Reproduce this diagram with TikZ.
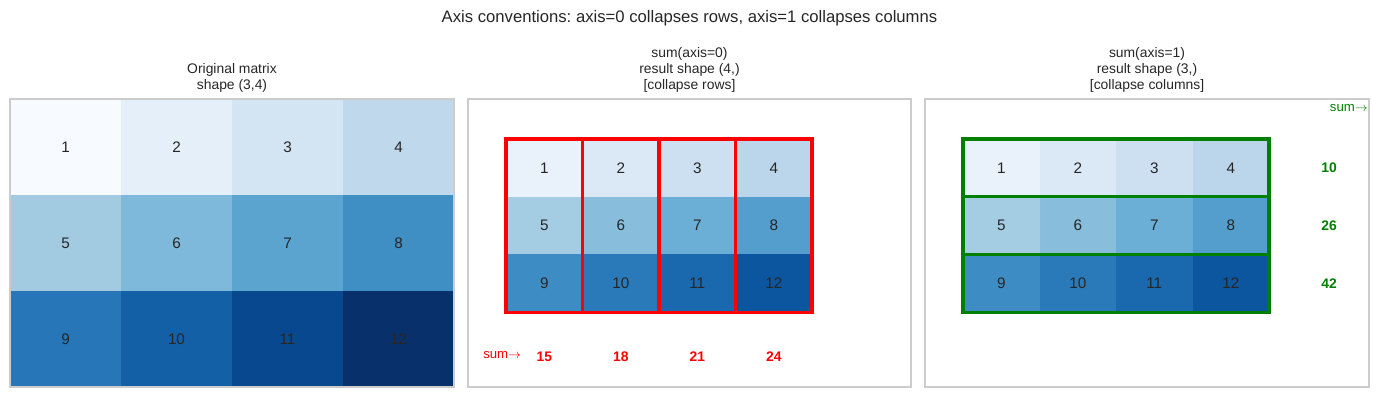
\documentclass[tikz,border=0pt]{standalone}
\usepackage{fontspec}
\setmainfont{Liberation Sans}
\usepackage{tikz}
\frenchspacing

\definecolor{textgray}{HTML}{262626}
\definecolor{framegray}{HTML}{CCCCCC}
\definecolor{sumgreen}{HTML}{008000}
% Blues, scaled 1..12
\definecolor{fullblue1}{HTML}{F7FBFF}
\definecolor{fullblue2}{HTML}{E5EFF9}
\definecolor{fullblue3}{HTML}{D3E4F3}
\definecolor{fullblue4}{HTML}{BFD8EC}
\definecolor{fullblue5}{HTML}{A2CBE2}
\definecolor{fullblue6}{HTML}{7EB8DA}
\definecolor{fullblue7}{HTML}{5CA4D0}
\definecolor{fullblue8}{HTML}{3F8FC5}
\definecolor{fullblue9}{HTML}{2777B8}
\definecolor{fullblue10}{HTML}{1360A7}
\definecolor{fullblue11}{HTML}{08488F}
\definecolor{fullblue12}{HTML}{08306B}
% Blues, scaled 0..14
\definecolor{partblue1}{HTML}{E9F2FA}
\definecolor{partblue2}{HTML}{DBE9F6}
\definecolor{partblue3}{HTML}{CDE0F1}
\definecolor{partblue4}{HTML}{BBD6EB}
\definecolor{partblue5}{HTML}{A4CCE3}
\definecolor{partblue6}{HTML}{88BEDC}
\definecolor{partblue7}{HTML}{6BAED6}
\definecolor{partblue8}{HTML}{549ECD}
\definecolor{partblue9}{HTML}{3D8DC4}
\definecolor{partblue10}{HTML}{2A7AB9}
\definecolor{partblue11}{HTML}{1A68AE}
\definecolor{partblue12}{HTML}{0C56A0}

\begin{document}
\begin{tikzpicture}[x=0.72pt, y=-0.72pt, text=textgray,
	cellnum/.style={inner sep=0, font=\fontsize{11}{12}\selectfont},
	paneltitle/.style={anchor=south, inner sep=0, align=center, font=\fontsize{10}{11.5}\selectfont},
	panelframe/.style={draw=framegray, line width=1.25pt},
	colbox/.style={draw=red, line width=2.2pt},
	rowbox/.style={draw=sumgreen, line width=2.2pt},
	sumval/.style={inner sep=0, font=\fontsize{10}{12}\selectfont\bfseries},
	sumlabel/.style={inner sep=0, font=\fontsize{9.5}{12}\selectfont}]
	\newcommand{\origcellw}{111}
	\newcommand{\origcellh}{96}
	\newcommand{\sumcellw}{76.5}
	\newcommand{\sumcellh}{57.7}
	\useasboundingbox (0,0) rectangle (1379,397);
	
	\node[anchor=base, inner sep=0, font=\fontsize{12}{14}\selectfont] (title) at (689.5,22.5) {Axis conventions: axis=0 collapses rows, axis=1 collapses columns};
	
	% Original matrix
	\foreach \r in {0,1,2} {
		\foreach \c in {0,1,2,3} {
			\pgfmathtruncatemacro{\v}{4*\r+\c+1}
			\fill[fill=fullblue\v] (10+\origcellw*\c, 99+\origcellh*\r) rectangle ++(\origcellw,\origcellh);
			\node[cellnum] (orig-\v) at (10+\origcellw*\c+0.5*\origcellw, 99+\origcellh*\r+0.5*\origcellh) {\v};
		}
	}
	\draw[panelframe] (10,99) rectangle (454,387);
	\node[paneltitle] (origtitle) at (232,92.5) {Original matrix\\shape (3,4)};
	
	% sum(axis=0)
	\draw[panelframe] (468,99) rectangle (911,387);
	\foreach \r in {0,1,2} {
		\foreach \c in {0,1,2,3} {
			\pgfmathtruncatemacro{\v}{4*\r+\c+1}
			\fill[fill=partblue\v] (506+\sumcellw*\c, 139+\sumcellh*\r) rectangle ++(\sumcellw,\sumcellh);
			\node[cellnum] (rows-\v) at (506+\sumcellw*\c+0.5*\sumcellw, 139+\sumcellh*\r+0.5*\sumcellh) {\v};
		}
	}
	\foreach \c/\s in {0/15, 1/18, 2/21, 3/24} {
		\draw[colbox] (506+\sumcellw*\c, 139) rectangle ++(\sumcellw, 3*\sumcellh);
		\node[sumval, text=red] (colsum-\c) at (506+\sumcellw*\c+0.5*\sumcellw, 356.5) {\s};
	}
	\node[sumlabel, text=red, anchor=base west] (rowslabel) at (483,358) {sum$\rightarrow$};
	\node[paneltitle] (rowstitle) at (689.5,92.5) {sum(axis=0)\\result shape (4,)\\{[collapse rows]}};
	
	% sum(axis=1)
	\draw[panelframe] (925,99) rectangle (1369,387);
	\foreach \r in {0,1,2} {
		\foreach \c in {0,1,2,3} {
			\pgfmathtruncatemacro{\v}{4*\r+\c+1}
			\fill[fill=partblue\v] (963+\sumcellw*\c, 139+\sumcellh*\r) rectangle ++(\sumcellw,\sumcellh);
			\node[cellnum] (cols-\v) at (963+\sumcellw*\c+0.5*\sumcellw, 139+\sumcellh*\r+0.5*\sumcellh) {\v};
		}
	}
	\foreach \r/\s in {0/10, 1/26, 2/42} {
		\draw[rowbox] (963, 139+\sumcellh*\r) rectangle ++(4*\sumcellw, \sumcellh);
		\node[sumval, text=sumgreen] (rowsum-\r) at (1329, 139+\sumcellh*\r+0.5*\sumcellh) {\s};
	}
	\node[sumlabel, text=sumgreen, anchor=base east] (colslabel) at (1368,111.5) {sum$\rightarrow$};
	\node[paneltitle] (colstitle) at (1147,92.5) {sum(axis=1)\\result shape (3,)\\{[collapse columns]}};
\end{tikzpicture}
\end{document}
